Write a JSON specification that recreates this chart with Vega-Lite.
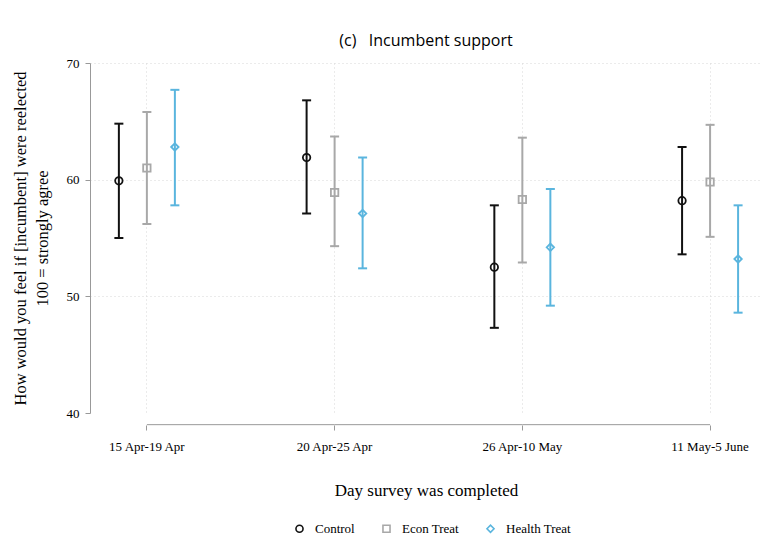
{
  "$schema": "https://vega.github.io/schema/vega-lite/v6.json",
  "width": 672,
  "height": 350,
  "autosize": {"type": "none"},
  "padding": {"left": 90, "top": 63, "right": 3, "bottom": 129},
  "background": "white",
  "title": {"text": "(c)\u00a0\u00a0\u00a0Incumbent support", "font": "Open Sans", "fontSize": 16, "fontWeight": "normal", "color": "#000000", "anchor": "middle", "offset": 8},
  "config": {
    "view": {"stroke": null},
    "legend": {"labelFont": "Liberation Serif", "labelFontSize": 13, "labelColor": "#000000", "symbolSize": 50, "symbolStrokeWidth": 1.6, "symbolFillColor": "transparent", "columnPadding": 24, "labelOffset": 9}
  },
  "data": {"values": [
    {"period": "15 Apr-19 Apr", "group": "Control", "mean": 59.9, "lo": 55.0, "hi": 64.8},
    {"period": "15 Apr-19 Apr", "group": "Econ Treat", "mean": 61.0, "lo": 56.2, "hi": 65.8},
    {"period": "15 Apr-19 Apr", "group": "Health Treat", "mean": 62.8, "lo": 57.8, "hi": 67.7},
    {"period": "20 Apr-25 Apr", "group": "Control", "mean": 61.9, "lo": 57.1, "hi": 66.8},
    {"period": "20 Apr-25 Apr", "group": "Econ Treat", "mean": 58.9, "lo": 54.3, "hi": 63.7},
    {"period": "20 Apr-25 Apr", "group": "Health Treat", "mean": 57.1, "lo": 52.4, "hi": 61.9},
    {"period": "26 Apr-10 May", "group": "Control", "mean": 52.5, "lo": 47.3, "hi": 57.8},
    {"period": "26 Apr-10 May", "group": "Econ Treat", "mean": 58.3, "lo": 52.9, "hi": 63.6},
    {"period": "26 Apr-10 May", "group": "Health Treat", "mean": 54.2, "lo": 49.2, "hi": 59.2},
    {"period": "11 May-5 June", "group": "Control", "mean": 58.2, "lo": 53.6, "hi": 62.8},
    {"period": "11 May-5 June", "group": "Econ Treat", "mean": 59.8, "lo": 55.1, "hi": 64.7},
    {"period": "11 May-5 June", "group": "Health Treat", "mean": 53.2, "lo": 48.6, "hi": 57.8}
  ]},
  "layer": [
    {
      "mark": {"type": "rule", "strokeWidth": 2},
      "encoding": {
        "x": {"field": "period", "type": "nominal",
          "scale": {"domain": ["15 Apr-19 Apr", "20 Apr-25 Apr", "26 Apr-10 May", "11 May-5 June"], "paddingInner": 0.5525, "paddingOuter": 0.066, "align": 0.6},
          "axis": {"title": "Day survey was completed", "titleFont": "Liberation Serif", "titleFontSize": 17, "titleFontWeight": "normal", "titleColor": "#000000", "titlePadding": 29,
            "labelFont": "Liberation Serif", "labelFontSize": 13, "labelColor": "#000000", "labelAngle": 0, "labelPadding": 10,
            "domain": false, "ticks": true, "tickSize": 5, "tickColor": "#999999", "offset": 12, "bandPosition": 0.5,
            "grid": true, "gridColor": "#d6d6d6", "gridDash": [1, 3], "gridWidth": 1}},
        "xOffset": {"field": "group", "type": "nominal", "scale": {"domain": ["Control", "Econ Treat", "Health Treat"], "paddingInner": 0, "paddingOuter": 0}},
        "y": {"field": "lo", "type": "quantitative",
          "scale": {"domain": [40, 70], "nice": false, "zero": false},
          "axis": {"title": ["How would you feel if [incumbent] were reelected", "100 = strongly agree"], "titleFont": "Liberation Serif", "titleFontSize": 16.5, "titleFontWeight": "normal", "titleColor": "#000000", "titlePadding": 16, "titleLineHeight": 22,
            "values": [40, 50, 60, 70], "labelFont": "Liberation Serif", "labelFontSize": 13, "labelColor": "#000000", "labelPadding": 6,
            "domainColor": "#999999", "tickColor": "#999999", "tickSize": 5,
            "grid": true, "gridColor": "#d6d6d6", "gridDash": [1, 3], "gridWidth": 1,
            "gridOpacity": {"condition": {"test": "datum.value == 40", "value": 0}, "value": 1}}},
        "y2": {"field": "hi"},
        "color": {"field": "group", "type": "nominal", "scale": {"domain": ["Control", "Econ Treat", "Health Treat"], "range": ["#111111", "#a8a8a8", "#5ab5de"]},
          "legend": {"orient": "none", "legendX": 203, "legendY": 459, "direction": "horizontal", "title": null,
            "labelFont": "Liberation Serif", "labelFontSize": 13, "labelColor": "#000000", "symbolSize": 50, "symbolStrokeWidth": 1.6,
            "symbolFillColor": "transparent", "columnPadding": 24, "labelOffset": 9}}
      }
    },
    {
      "mark": {"type": "point", "shape": "M -1 0 L 1 0", "size": 81, "filled": false, "strokeWidth": 2, "opacity": 1},
      "encoding": {
        "x": {"field": "period", "type": "nominal"},
        "xOffset": {"field": "group", "type": "nominal"},
        "y": {"field": "lo", "type": "quantitative"},
        "color": {"field": "group", "type": "nominal"}
      }
    },
    {
      "mark": {"type": "point", "shape": "M -1 0 L 1 0", "size": 81, "filled": false, "strokeWidth": 2, "opacity": 1},
      "encoding": {
        "x": {"field": "period", "type": "nominal"},
        "xOffset": {"field": "group", "type": "nominal"},
        "y": {"field": "hi", "type": "quantitative"},
        "color": {"field": "group", "type": "nominal"}
      }
    },
    {
      "mark": {"type": "point", "filled": false, "size": 55, "strokeWidth": 1.8, "opacity": 1},
      "encoding": {
        "x": {"field": "period", "type": "nominal"},
        "xOffset": {"field": "group", "type": "nominal"},
        "y": {"field": "mean", "type": "quantitative"},
        "color": {"field": "group", "type": "nominal"},
        "shape": {"field": "group", "type": "nominal", "scale": {"domain": ["Control", "Econ Treat", "Health Treat"], "range": ["circle", "square", "diamond"]}}
      }
    },
    {
      "mark": {"type": "line", "color": "#999999", "strokeWidth": 1},
      "encoding": {
        "x": {"field": "period", "type": "nominal"},
        "y": {"datum": 39}
      }
    }
  ]
}
